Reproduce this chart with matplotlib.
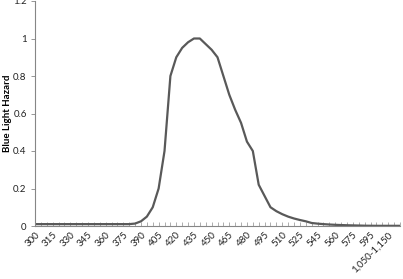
import matplotlib
matplotlib.use('Agg')
import matplotlib.pyplot as plt

plt.rcParams['font.family'] = ['Lato', 'DejaVu Sans']

# 파장 구간 (category axis)
wavelengths = [str(w) for w in range(300, 515, 5)] + [
    '515', '520', '525', '530', '540', '545', '550', '555', '560',
    '565', '570', '575', '580', '590', '595', '600-700',
    '700-1,050', '1,050-1,150', '1,150-1,200', '1,200-1,400']

# blue light hazard B(lambda)
hazard = [0.01] * 17 + [
    0.013, 0.025, 0.05, 0.1, 0.2, 0.4, 0.8, 0.9, 0.95, 0.98, 1.0, 1.0,
    0.97, 0.94, 0.9, 0.8, 0.7, 0.62, 0.55, 0.45, 0.4, 0.22, 0.16, 0.1,
    0.079, 0.063, 0.05, 0.04, 0.032, 0.025, 0.016, 0.0126, 0.01, 0.0079,
    0.0063, 0.005, 0.004, 0.0032, 0.0025, 0.0016, 0.0013,
    0.001, 0.001, 0.001, 0.001, 0.001]

yticks = [0, 0.2, 0.4, 0.6, 0.8, 1, 1.2]

fig = plt.figure(figsize=(4.03, 2.79), dpi=100)
ax = fig.add_axes([35 / 403, 1 - 226 / 279, 365 / 403, 225 / 279])

x = list(range(len(hazard)))
ax.plot(x, hazard, color='#595959', linewidth=1.6, solid_joinstyle='round')

ax.set_xlim(0, len(hazard) - 1)
ax.set_ylim(0, 1.2)

ax.set_xticks(x)
ax.set_xticklabels([w if i % 3 == 0 else '' for i, w in enumerate(wavelengths)],
                   rotation=45, ha='right', va='top', rotation_mode='anchor',
                   fontsize=7, color='#222222')
ax.tick_params(axis='x', direction='in', length=3, width=0.6, color='#a0a0a0', pad=3)

ax.set_yticks(yticks)
ax.set_yticklabels(['0', '0.2', '0.4', '0.6', '0.8', '1', '1.2'], fontsize=7,
                   color='#222222')
ax.tick_params(axis='y', direction='out', length=3, width=0.6, color='#868686', pad=3)

for s in ['top', 'right']:
    ax.spines[s].set_visible(False)
for s in ['left', 'bottom']:
    ax.spines[s].set_color('#868686')
    ax.spines[s].set_linewidth(0.8)

ax.set_ylabel('Blue Light Hazard', fontsize=7, fontweight='bold')
ax.yaxis.set_label_coords(-23 / 365, 0.5)

fig.savefig('out.png', dpi=100)
